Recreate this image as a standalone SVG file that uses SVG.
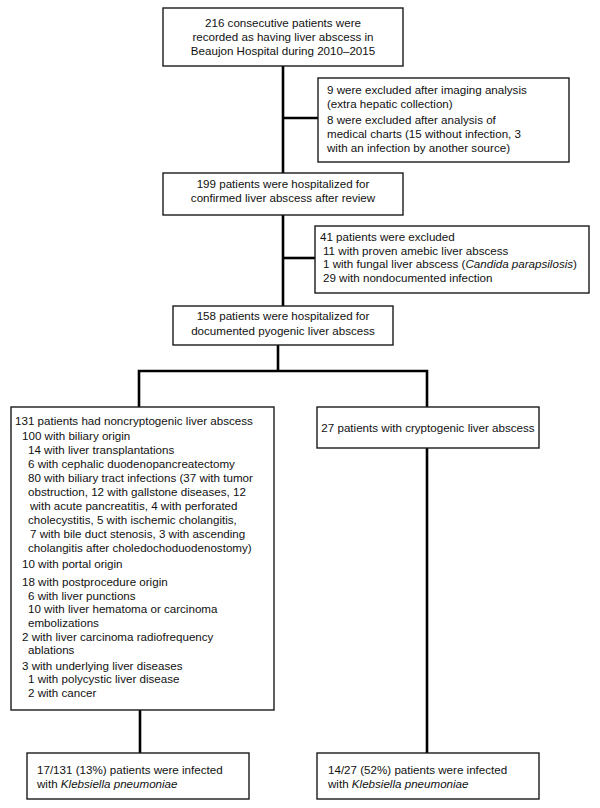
<svg xmlns="http://www.w3.org/2000/svg" width="600" height="808" viewBox="0 0 600 808">
<style>
.box{fill:#fff;stroke:#1a1a1a;stroke-width:1.4}
.con{fill:none;stroke:#000;stroke-width:2.6}
text{font-family:"Liberation Sans",Arial,sans-serif;font-size:11.6px;fill:#111}
.c{text-anchor:middle}
.i{font-style:italic}
</style>
<rect width="600" height="808" fill="#fff"/>
<g id="connectors">
<path class="con" d="M283 66V306"/>
<path class="con" d="M283 118H318"/>
<path class="con" d="M283 258H315"/>
<path class="con" d="M278 345V371"/>
<path class="con" d="M139 407V371H427V407"/>
<path class="con" d="M140 710V753"/>
<path class="con" d="M427 448V753"/>
</g>
<g id="n1">
<rect class="box" x="163" y="8" width="240" height="58"/>
<text class="c" x="283" y="27">216 consecutive patients were</text>
<text class="c" x="283" y="41">recorded as having liver abscess in</text>
<text class="c" x="283" y="55">Beaujon Hospital during 2010–2015</text>
</g>
<g id="n2">
<rect class="box" x="318" y="78" width="251" height="84"/>
<text x="327" y="94">9 were excluded after imaging analysis</text>
<text x="327" y="108">(extra hepatic collection)</text>
<text x="327" y="124">8 were excluded after analysis of</text>
<text x="327" y="138">medical charts (15 without infection, 3</text>
<text x="327" y="152">with an infection by another source)</text>
</g>
<g id="n3">
<rect class="box" x="163" y="173" width="240" height="42"/>
<text class="c" x="283" y="188">199 patients were hospitalized for</text>
<text class="c" x="283" y="202">confirmed liver abscess after review</text>
</g>
<g id="n4">
<rect class="box" x="315" y="226" width="274" height="67"/>
<text x="320" y="241">41 patients were excluded</text>
<text x="323" y="255">11 with proven amebic liver abscess</text>
<text x="323" y="268">1 with fungal liver abscess (<tspan class="i">Candida parapsilosis</tspan>)</text>
<text x="323" y="282">29 with nondocumented infection</text>
</g>
<g id="n5">
<rect class="box" x="173" y="306" width="220" height="39"/>
<text class="c" x="283" y="320">158 patients were hospitalized for</text>
<text class="c" x="283" y="335">documented pyogenic liver abscess</text>
</g>
<g id="n6">
<rect class="box" x="11" y="407" width="263" height="303"/>
<text x="15" y="425">131 patients had noncryptogenic liver abscess</text>
<text x="22" y="440">100 with biliary origin</text>
<text x="28" y="454">14 with liver transplantations</text>
<text x="28" y="468">6 with cephalic duodenopancreatectomy</text>
<text x="28" y="482">80 with biliary tract infections (37 with tumor</text>
<text x="28" y="496">obstruction, 12 with gallstone diseases, 12</text>
<text x="30" y="510">with acute pancreatitis, 4 with perforated</text>
<text x="28" y="524">cholecystitis, 5 with ischemic cholangitis,</text>
<text x="30" y="538">7 with bile duct stenosis, 3 with ascending</text>
<text x="28" y="552">cholangitis after choledochoduodenostomy)</text>
<text x="22" y="568">10 with portal origin</text>
<text x="22" y="586">18 with postprocedure origin</text>
<text x="28" y="600">6 with liver punctions</text>
<text x="28" y="613">10 with liver hematoma or carcinoma</text>
<text x="28" y="627">embolizations</text>
<text x="22" y="641">2 with liver carcinoma radiofrequency</text>
<text x="28" y="654">ablations</text>
<text x="22" y="670">3 with underlying liver diseases</text>
<text x="28" y="683">1 with polycystic liver disease</text>
<text x="28" y="697">2 with cancer</text>
</g>
<g id="n7">
<rect class="box" x="317" y="407" width="222" height="41"/>
<text class="c" x="428" y="432">27 patients with cryptogenic liver abscess</text>
</g>
<g id="n8">
<rect class="box" x="27" y="753" width="222" height="46"/>
<text x="37" y="774">17/131 (13%) patients were infected</text>
<text x="37" y="788">with <tspan class="i">Klebsiella pneumoniae</tspan></text>
</g>
<g id="n9">
<rect class="box" x="317" y="753" width="222" height="46"/>
<text x="328" y="774">14/27 (52%) patients were infected</text>
<text x="328" y="788">with <tspan class="i">Klebsiella pneumoniae</tspan></text>
</g>
</svg>
